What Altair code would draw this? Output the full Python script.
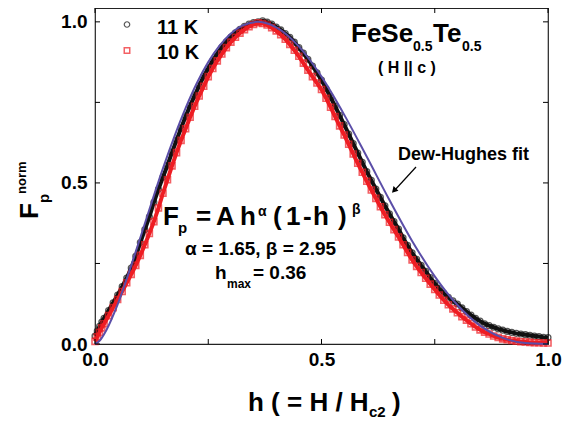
import altair as alt
import pandas as pd

# ---------------- data ----------------
h_grid = [0.000, 0.005, 0.010, 0.015, 0.020, 0.030, 0.040, 0.050, 0.060, 0.070,
          0.080, 0.090, 0.100, 0.110, 0.120, 0.130, 0.140, 0.150, 0.160, 0.170,
          0.180, 0.190, 0.200, 0.210, 0.220, 0.230, 0.240, 0.250, 0.260, 0.270,
          0.280, 0.290, 0.300, 0.310, 0.320, 0.330, 0.340, 0.350, 0.360, 0.370,
          0.380, 0.390, 0.400, 0.410, 0.420, 0.430, 0.440, 0.450, 0.460, 0.470,
          0.480, 0.490, 0.500, 0.510, 0.520, 0.530, 0.540, 0.550, 0.560, 0.570,
          0.580, 0.590, 0.600, 0.610, 0.620, 0.630, 0.640, 0.650, 0.660, 0.670,
          0.680, 0.690, 0.700, 0.710, 0.720, 0.730, 0.740, 0.750, 0.760, 0.770,
          0.780, 0.790, 0.800, 0.810, 0.820, 0.830, 0.840, 0.850, 0.860, 0.870,
          0.880, 0.890, 0.900, 0.910, 0.920, 0.930, 0.940, 0.950, 0.960, 0.970,
          0.980, 0.990, 1.000]

F_11K = [0.025, 0.040, 0.055, 0.068, 0.080, 0.104, 0.128, 0.152, 0.178, 0.205,
         0.236, 0.272, 0.315, 0.355, 0.395, 0.440, 0.480, 0.518, 0.555, 0.595,
         0.633, 0.670, 0.706, 0.740, 0.771, 0.802, 0.831, 0.856, 0.880, 0.901,
         0.921, 0.938, 0.953, 0.966, 0.977, 0.986, 0.993, 0.998, 1.000, 1.003,
         0.999, 0.993, 0.984, 0.975, 0.964, 0.952, 0.937, 0.920, 0.903, 0.884,
         0.863, 0.842, 0.819, 0.793, 0.766, 0.738, 0.710, 0.681, 0.652, 0.622,
         0.593, 0.564, 0.535, 0.508, 0.481, 0.455, 0.429, 0.404, 0.380, 0.357,
         0.330, 0.306, 0.283, 0.263, 0.244, 0.226, 0.206, 0.188, 0.172, 0.157,
         0.145, 0.134, 0.124, 0.112, 0.101, 0.090, 0.080, 0.071, 0.063, 0.057,
         0.052, 0.047, 0.043, 0.039, 0.036, 0.033, 0.031, 0.029, 0.027, 0.025,
         0.023, 0.021, 0.020]

F_10K = [0.008, 0.022, 0.036, 0.050, 0.063, 0.088, 0.113, 0.138, 0.163, 0.190,
         0.216, 0.244, 0.275, 0.308, 0.343, 0.380, 0.422, 0.468, 0.510, 0.553,
         0.594, 0.632, 0.668, 0.704, 0.738, 0.770, 0.800, 0.830, 0.855, 0.879,
         0.900, 0.920, 0.937, 0.952, 0.965, 0.976, 0.985, 0.992, 0.997, 0.995,
         0.990, 0.982, 0.972, 0.960, 0.946, 0.930, 0.912, 0.893, 0.872, 0.850,
         0.830, 0.810, 0.790, 0.763, 0.735, 0.706, 0.677, 0.649, 0.620, 0.590,
         0.561, 0.533, 0.505, 0.478, 0.452, 0.426, 0.401, 0.378, 0.355, 0.332,
         0.308, 0.284, 0.261, 0.241, 0.222, 0.204, 0.186, 0.169, 0.152, 0.136,
         0.122, 0.109, 0.097, 0.085, 0.074, 0.063, 0.053, 0.044, 0.037, 0.031,
         0.025, 0.020, 0.016, 0.013, 0.011, 0.009, 0.007, 0.006, 0.005, 0.004,
         0.004, 0.003, 0.003]

h_fit = [0.000, 0.010, 0.025, 0.050, 0.075, 0.100, 0.125, 0.150, 0.175, 0.200,
         0.225, 0.250, 0.275, 0.300, 0.325, 0.360, 0.375, 0.400, 0.450, 0.500,
         0.550, 0.600, 0.650, 0.700, 0.750, 0.800, 0.850, 0.900, 0.950, 1.000]
F_fit = [0.000, 0.010, 0.043, 0.123, 0.223, 0.330, 0.439, 0.545, 0.643, 0.732,
         0.810, 0.875, 0.926, 0.964, 0.988, 1.000, 0.997, 0.983, 0.924, 0.830,
         0.712, 0.581, 0.447, 0.320, 0.210, 0.121, 0.057, 0.019, 0.003, 0.000]

tick_values = [0.0, 0.25, 0.5, 0.75, 1.0]
label_values = [0.0, 0.5, 1.0]

# ---------------- layout ----------------
W, H = 453, 336
OX, OY = 95, 8          # page position of the plot origin
FONT = "Liberation Sans"
RED = "#ee1d23"
PURPLE = "#5b4ea8"

xs = alt.Scale(domain=[0, 1], nice=False, zero=False)
ys = alt.Scale(domain=[0, 1.043], nice=False, zero=False)

d11 = pd.DataFrame({"h": h_grid, "F": F_11K})
d10 = pd.DataFrame({"h": h_grid, "F": F_10K})
dfit = pd.DataFrame({"h": h_fit, "F": F_fit})

axis_common = dict(values=label_values, format=".1f", labelFont=FONT, labelFontWeight="bold",
                   labelFontSize=19, labelColor="black", ticks=False, domain=False,
                   grid=False, title=None, labelOverlap=False, labelFlush=False)

x_enc = alt.X("h:Q", scale=xs, axis=alt.Axis(labelPadding=6, **axis_common))
y_enc = alt.Y("F:Q", scale=ys, axis=alt.Axis(labelPadding=8, **axis_common))

band11 = alt.Chart(d11).mark_line(color="#111111", strokeWidth=4).encode(x=x_enc, y=y_enc)
pts11 = alt.Chart(d11).mark_point(shape="circle", filled=False, size=34, strokeWidth=1.3,
                                  color="#111111").encode(x="h:Q", y="F:Q")
band10 = alt.Chart(d10).mark_line(color=RED, strokeWidth=4).encode(x="h:Q", y="F:Q")
pts10 = alt.Chart(d10).mark_point(shape="square", filled=False, size=36, strokeWidth=1.6,
                                  color=RED).encode(x="h:Q", y="F:Q")
fit = alt.Chart(dfit).mark_line(color=PURPLE, strokeWidth=2, interpolate="monotone").encode(
    x="h:Q", y="F:Q")

# inward ticks on all four sides
dt = pd.DataFrame({"v": tick_values})
TL = 5
tick_bottom = alt.Chart(dt).mark_rule(color="black", strokeWidth=1).encode(
    x="v:Q", y=alt.value(H), y2=alt.value(H - TL))
tick_top = alt.Chart(dt).mark_rule(color="black", strokeWidth=1).encode(
    x="v:Q", y=alt.value(0), y2=alt.value(TL))
tick_left = alt.Chart(dt).mark_rule(color="black", strokeWidth=1).encode(
    y="v:Q", x=alt.value(0), x2=alt.value(TL))
tick_right = alt.Chart(dt).mark_rule(color="black", strokeWidth=1).encode(
    y="v:Q", x=alt.value(W), x2=alt.value(W - TL))


def txt(text, px, py, size, align="left", angle=0, color="black"):
    """Text placed at page coordinates (px, py) = anchor / baseline."""
    return alt.Chart(pd.DataFrame({"t": [text]})).mark_text(
        align=align, baseline="alphabetic", font=FONT, fontWeight="bold",
        fontSize=size, angle=angle, color=color).encode(
        x=alt.value(px - OX), y=alt.value(py - OY), text="t:N")


def marker(shape, px, py, color, sw):
    return alt.Chart(pd.DataFrame({"t": [0]})).mark_point(
        shape=shape, filled=False, size=30, strokeWidth=sw, color=color).encode(
        x=alt.value(px - OX), y=alt.value(py - OY))


texts = [
    # legend
    marker("circle", 127, 24.5, "#111111", 1.2),
    txt("11 K", 157, 33.5, 20),
    marker("square", 127, 50.5, RED, 1.5),
    txt("10 K", 157, 58.5, 20),
    # compound label
    txt("FeSe", 351, 42, 26),
    txt("0.5", 413, 51, 14),
    txt("Te", 433, 42, 26),
    txt("0.5", 462, 51, 14),
    txt("( H || c )", 407, 73, 16, align="center"),
    # fit label
    txt("Dew-Hughes fit", 398, 160, 18),
    # formula
    txt("F", 163, 225, 26),
    txt("p", 178, 233, 15),
    txt("=", 196, 225, 26),
    txt("A", 216, 225, 26),
    txt("h", 240, 225, 26),
    txt("α", 258, 216, 14),
    txt("(", 273, 225, 26),
    txt("1", 286, 225, 26),
    txt("-", 303, 225, 26),
    txt("h", 313, 225, 26),
    txt(")", 338, 225, 26),
    txt("β", 352, 214, 14),
    txt("α = 1.65, β = 2.95", 185, 255, 19),
    txt("h", 215, 279, 19),
    txt("max", 227, 288, 12),
    txt("= 0.36", 253, 279, 19),
    # y title (rotated)
    txt("F", 38, 219, 26, angle=270),
    txt("p", 49, 203, 15, angle=270),
    txt("norm", 26, 194, 13, angle=270),
    # x title
    txt("h ( = H / H", 248, 411, 26),
    txt("c2", 369, 417, 15),
    txt(")", 392, 411, 26),
]

# arrow for the fit label
arrow_line = alt.Chart(pd.DataFrame({"t": [0]})).mark_rule(color="black", strokeWidth=1.2).encode(
    x=alt.value(416 - OX), y=alt.value(167 - OY), x2=alt.value(394 - OX), y2=alt.value(191 - OY))
arrow_head = alt.Chart(pd.DataFrame({"t": [0]})).mark_point(
    shape="triangle-up", filled=True, size=45, color="black", angle=222.8, opacity=1).encode(
    x=alt.value(394 - OX), y=alt.value(190.5 - OY))

chart = alt.layer(
    band11, pts11, band10, pts10, fit,
    tick_bottom, tick_top, tick_left, tick_right,
    arrow_line, arrow_head, *texts
).properties(
    width=W, height=H,
    autosize=alt.AutoSizeParams(type="none"),
    padding={"left": 87, "top": 0, "right": 14, "bottom": 78},
    background="white",
).configure_view(stroke="#222222", strokeWidth=1.2)

chart.save("out.html", embed_options={"renderer": "svg", "actions": False})
